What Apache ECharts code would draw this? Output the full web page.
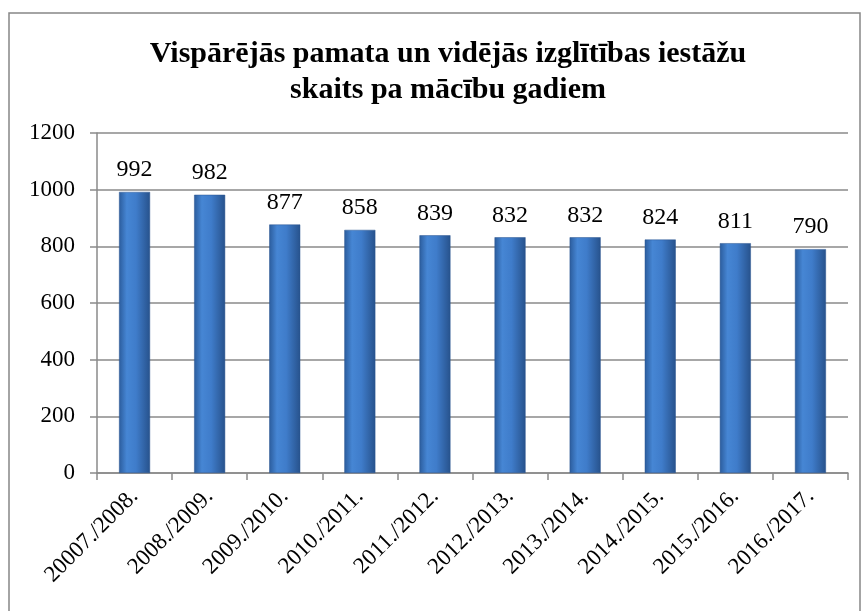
<!DOCTYPE html>
<html>
<head>
<meta charset="utf-8">
<script src="https://cdn.jsdelivr.net/npm/echarts@6/dist/echarts.min.js"></script>
<style>
  html, body { margin: 0; padding: 0; background: #fff; }
  #chart { width: 864px; height: 611px; }
</style>
</head>
<body>
<div id="chart"></div>
<script>
// mācību gadi un iestāžu skaits
var years = ['20007./2008.', '2008./2009.', '2009./2010.', '2010./2011.', '2011./2012.',
             '2012./2013.', '2013./2014.', '2014./2015.', '2015./2016.', '2016./2017.'];
var schools = [992, 982, 877, 858, 839, 832, 832, 824, 811, 790];
var yTicks = [0, 200, 400, 600, 800, 1000, 1200];

var serif = '"Liberation Serif", "Times New Roman", serif';

var chart = echarts.init(document.getElementById('chart'));
var option = {
    animation: false,
    backgroundColor: '#fff',
    title: {
        text: 'Vispārējās pamata un vidējās izglītības iestāžu\nskaits pa mācību gadiem',
        left: 443,
        textAlign: 'center',
        top: 31,
        textStyle: {
            fontFamily: serif,
            fontWeight: 'bold',
            fontSize: 30,
            lineHeight: 36,
            color: '#000'
        }
    },
    graphic: [{
        type: 'rect',
        shape: { x: 9, y: 13, width: 851, height: 700 },
        style: { fill: 'none', stroke: '#868686', lineWidth: 1.5 },
        silent: true
    }],
    grid: { left: 97, right: 16, top: 133, bottom: 138 },
    xAxis: {
        type: 'category',
        data: years,
        axisLine: { lineStyle: { color: '#8a8a8a', width: 1.5 } },
        axisTick: { show: true, length: 7, lineStyle: { color: '#8a8a8a', width: 1.5 } },
        axisLabel: {
            interval: 0,
            rotate: 45,
            margin: 20,
            fontFamily: serif,
            fontSize: 23,
            color: '#000'
        }
    },
    yAxis: {
        type: 'value',
        min: yTicks[0],
        max: yTicks[yTicks.length - 1],
        interval: 200,
        axisLine: { show: true, lineStyle: { color: '#8a8a8a', width: 1.5 } },
        axisTick: { show: true, length: 7, lineStyle: { color: '#8a8a8a', width: 1.5 } },
        splitLine: { lineStyle: { color: '#8a8a8a', width: 1.5 } },
        axisLabel: {
            margin: 22,
            formatter: function (v) { return String(v); },
            fontFamily: serif,
            fontSize: 23,
            color: '#000'
        }
    },
    series: [{
        type: 'bar',
        data: schools,
        barWidth: 31,
        itemStyle: {
            color: new echarts.graphic.LinearGradient(0, 0, 1, 0, [
                { offset: 0, color: '#2b5c9c' },
                { offset: 0.25, color: '#4686d4' },
                { offset: 0.55, color: '#3f7cca' },
                { offset: 1, color: '#27528c' }
            ]),
            borderColor: '#2a5590',
            borderWidth: 0.5
        },
        label: {
            show: true,
            position: 'top',
            distance: 10,
            fontFamily: serif,
            fontSize: 24,
            color: '#000'
        }
    }]
};
chart.setOption(option);
</script>
</body>
</html>
